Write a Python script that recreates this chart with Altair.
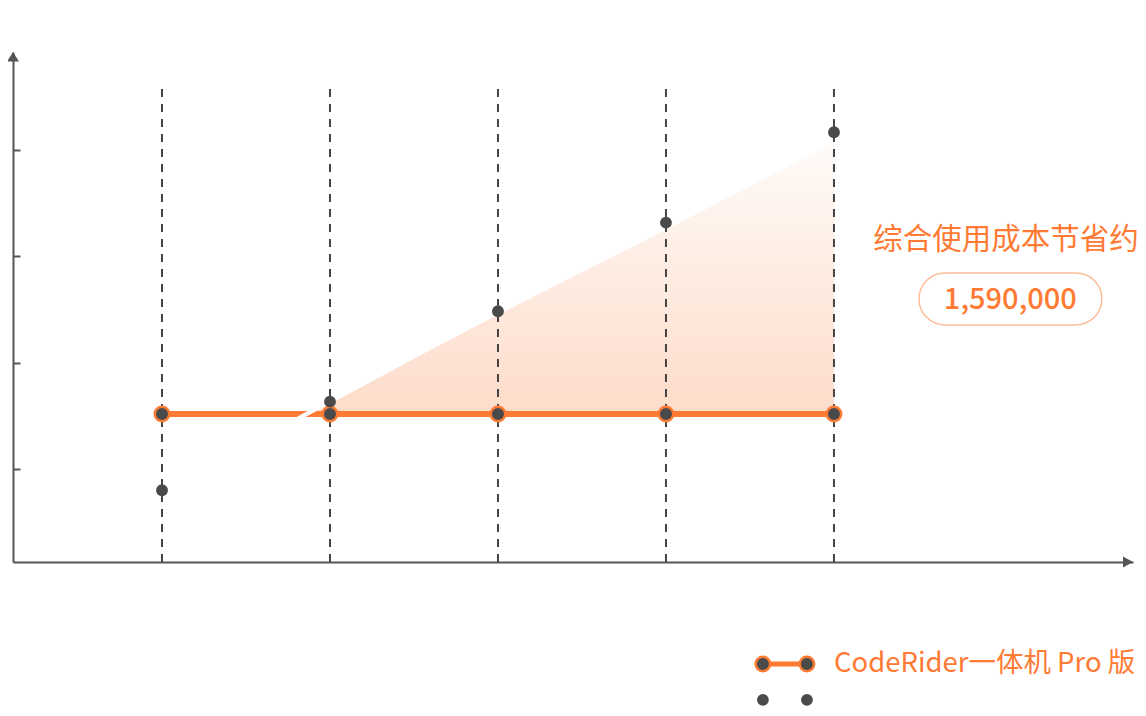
import altair as alt
import pandas as pd

# ---- data (万元) ----
years = [1, 2, 3, 4, 5]
pro_cost = [91, 91, 91, 91, 91]            # CodeRider一体机 Pro 版
other_cost = [48, 98, 149, 199, 250]       # comparison series (grey dots)
saving_x = [1.85, 2, 3, 4, 5]              # shaded saving wedge
saving_top = [91, 98, 147, 195, 244]
y_ticks = [60, 120, 180, 240]

saving_title = "综合使用成本节省约"
saving_value = "1,590,000"
legend_label = "CodeRider一体机 Pro 版"

ORANGE = "#FF7A33"
DARK = "#4A4A4A"
AXIS = "#555555"
FONT = "Noto Sans CJK SC"

X_DOMAIN = [0.1131, 6.78]
Y_DOMAIN = [7.5, 295.3]
W, H = 1120, 510

xs = alt.Scale(domain=X_DOMAIN, nice=False, zero=False)
ys = alt.Scale(domain=Y_DOMAIN, nice=False, zero=False)
x_axis = alt.Axis(ticks=False, labels=False, grid=False, domainColor=AXIS, domainWidth=2, title=None)
y_axis = alt.Axis(orient="right", offset=-W, values=y_ticks, tickSize=7, tickWidth=2,
                  tickColor=AXIS, labels=False, grid=False, domainColor=AXIS,
                  domainWidth=2, title=None)


def X():
    return alt.X("x:Q", scale=xs, axis=x_axis)


def Y():
    return alt.Y("y:Q", scale=ys, axis=y_axis)


area_df = pd.DataFrame({"x": saving_x, "y": saving_top, "y2": [pro_cost[0]] * len(saving_x)})
rule_df = pd.DataFrame({"x": years, "y": [Y_DOMAIN[0]] * 5, "y2": [275] * 5})
pro_df = pd.DataFrame({"x": years, "y": pro_cost})
other_df = pd.DataFrame({"x": years, "y": other_cost})

area = alt.Chart(area_df).mark_area(
    fill=alt.Gradient(
        gradient="linear", x1=0, x2=0, y1=0, y2=1,
        stops=[alt.GradientStop(color="#FFFBF8", offset=0),
               alt.GradientStop(color="#FDDCCA", offset=1)],
    ),
    opacity=1,
).encode(x=X(), y=Y(), y2="y2:Q")

rules = alt.Chart(rule_df).mark_rule(
    color="#444444", strokeWidth=2, strokeDash=[8, 7]
).encode(x=X(), y=Y(), y2="y2:Q")

pro_line = alt.Chart(pro_df).mark_line(color=ORANGE, strokeWidth=6).encode(x=X(), y=Y())
cut_line = alt.Chart(other_df).mark_line(color="white", strokeWidth=4).encode(x=X(), y=Y())
pro_pts = alt.Chart(pro_df).mark_circle(
    fill=DARK, stroke=ORANGE, strokeWidth=2.5, size=210, opacity=1
).encode(x=X(), y=Y())
other_pts = alt.Chart(other_df).mark_circle(color=DARK, size=140, opacity=1).encode(x=X(), y=Y())

# axis arrow heads
arrow_x = alt.Chart(pd.DataFrame({"x": [X_DOMAIN[1]], "y": [Y_DOMAIN[0]]})).mark_point(
    shape="M0,0 L-1,-0.55 L-1,0.55 Z", filled=True, color=AXIS, size=400, opacity=1
).encode(x=X(), y=Y())
arrow_y = alt.Chart(pd.DataFrame({"x": [X_DOMAIN[0]], "y": [Y_DOMAIN[1]]})).mark_point(
    shape="M0,0 L-0.6,0.95 L0.6,0.95 Z", filled=True, color=AXIS, size=400, opacity=1
).encode(x=X(), y=Y())

# annotation
note_x = 6.024
title_txt = alt.Chart(pd.DataFrame({"x": [note_x], "y": [189.2], "t": [saving_title]})).mark_text(
    font=FONT, fontSize=29.5, color=ORANGE, align="center", baseline="middle"
).encode(x=X(), y=Y(), text="t:N")
pill = alt.Chart(pd.DataFrame({"x": [5.506], "x2": [6.595], "y": [170.6], "y2": [141.3]})).mark_rect(
    fillOpacity=0, stroke="#FDBB99", strokeWidth=1.5, cornerRadius=26
).encode(x=X(), x2="x2:Q", y=Y(), y2="y2:Q")
value_txt = alt.Chart(pd.DataFrame({"x": [6.05], "y": [155.4], "t": [saving_value]})).mark_text(
    font=FONT, fontSize=29, fontWeight=500, color=ORANGE, align="center", baseline="middle"
).encode(x=X(), y=Y(), text="t:N")

# legend
leg_x = [4.577, 4.839]
leg_df1 = pd.DataFrame({"x": leg_x, "y": [-50, -50]})
leg_df2 = pd.DataFrame({"x": leg_x, "y": [-70.3, -70.3]})
leg_line = alt.Chart(leg_df1).mark_line(color=ORANGE, strokeWidth=5).encode(x=X(), y=Y())
leg_pts1 = alt.Chart(leg_df1).mark_circle(
    fill=DARK, stroke=ORANGE, strokeWidth=2.5, size=210, opacity=1
).encode(x=X(), y=Y())
leg_pts2 = alt.Chart(leg_df2).mark_circle(color=DARK, size=140, opacity=1).encode(x=X(), y=Y())
leg_txt = alt.Chart(pd.DataFrame({"x": [5.0], "y": [-50], "t": [legend_label]})).mark_text(
    font=FONT, fontSize=27.5, color=ORANGE, align="left", baseline="middle"
).encode(x=X(), y=Y(), text="t:N")

chart = alt.layer(
    area, rules, pro_line, cut_line, pro_pts, other_pts, arrow_x, arrow_y,
    title_txt, pill, value_txt, leg_line, leg_pts1, leg_pts2, leg_txt,
).properties(
    width=W, height=H,
    autosize=alt.AutoSizeParams(type="none"),
    padding={"left": 5, "top": 44, "right": 5, "bottom": 146},
).configure_view(stroke=None)

chart.save("out.html", embed_options={"renderer": "svg", "actions": False})
